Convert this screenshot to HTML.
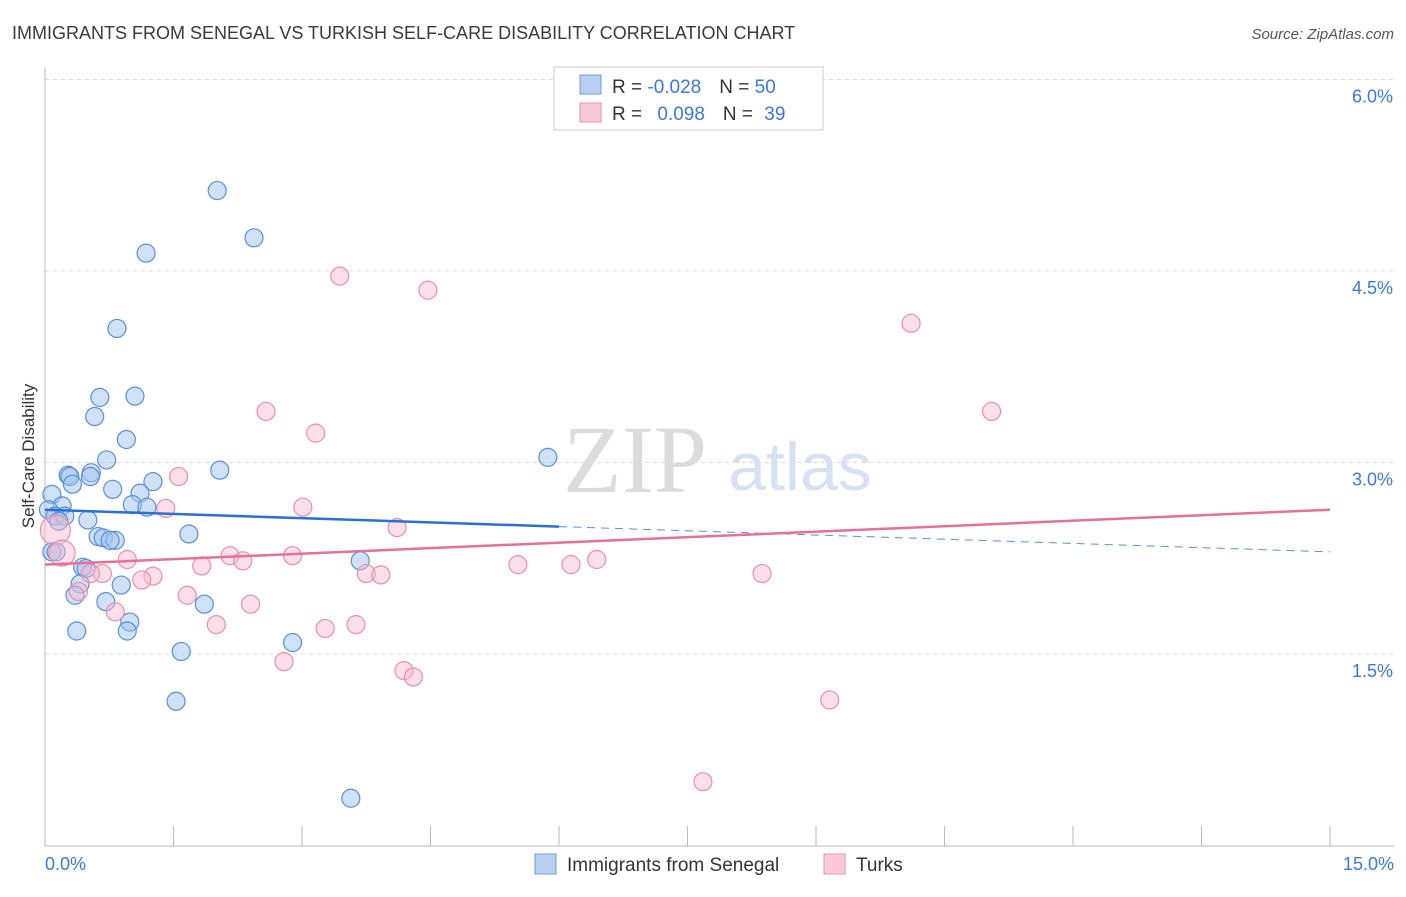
<!DOCTYPE html>
<html><head><meta charset="utf-8"><style>
body{margin:0;background:#fff;font-family:"Liberation Sans",sans-serif}
</style></head><body>
<svg id="chart" width="1406" height="892" xmlns="http://www.w3.org/2000/svg" font-family="Liberation Sans, sans-serif">
<text x="12" y="39" font-size="18" fill="#3a3a3a">IMMIGRANTS FROM SENEGAL VS TURKISH SELF-CARE DISABILITY CORRELATION CHART</text>
<text x="1394" y="39" font-size="15" fill="#555" font-style="italic" text-anchor="end">Source: ZipAtlas.com</text>
<g id="grid"></g>
<text x="635" y="492" font-size="96" fill="#dcdcdc" font-family="Liberation Serif, serif" text-anchor="middle">ZIP</text>
<text x="800" y="490" font-size="68" fill="#d5e2f3" text-anchor="middle">atlas</text>
<line x1="45" y1="67" x2="45" y2="846" stroke="#bbb"/>
<line x1="45" y1="846" x2="1394" y2="846" stroke="#bbb"/>
<g id="xticks"></g>
<g id="ylabels"></g>
<text transform="translate(34,456) rotate(-90)" font-size="17" fill="#333" text-anchor="middle">Self-Care Disability</text>
<text x="45" y="870" font-size="18" fill="#3b78d8">0.0%</text>
<text x="1394" y="870" font-size="18" fill="#3b78d8" text-anchor="end">15.0%</text>
<g id="points"></g>
<g id="trends"></g>
<g>
<rect x="554" y="67" width="269" height="63" fill="#fff" stroke="#ccc"/>
<rect x="580" y="75" width="21" height="19" fill="#b7d0f2" stroke="#6d9be0"/>
<rect x="580" y="103" width="21" height="19" fill="#f9c9d7" stroke="#ec93ad"/>
<text x="612" y="93" font-size="19" fill="#333">R = <tspan fill="#3b78d8">-0.028</tspan><tspan dx="18">N = </tspan><tspan fill="#3b78d8">50</tspan></text>
<text x="612" y="120" font-size="19" fill="#333">R = <tspan fill="#3b78d8" dx="10">0.098</tspan><tspan dx="18">N = </tspan><tspan fill="#3b78d8" dx="6">39</tspan></text>
</g>
<g>
<rect x="535" y="854" width="21" height="20" fill="#b7d0f2" stroke="#6d9be0"/>
<text x="567" y="871" font-size="19" fill="#333">Immigrants from Senegal</text>
<rect x="824" y="854" width="21" height="20" fill="#f9c9d7" stroke="#ec93ad"/>
<text x="856" y="871" font-size="19" fill="#333">Turks</text>
</g>
</svg>
<script>
const yTicks=[1.5,3.0,4.5,6.0];
const yTickLabels=["1.5%","3.0%","4.5%","6.0%"];
const xTicks=[0,1.5,3,4.5,6,7.5,9,10.5,12,13.5,15];
const senegalX=[2.01,2.44,1.18,0.84,1.05,0.64,0.58,0.95,0.72,2.04,5.87,0.27,0.29,0.54,0.53,0.32,1.26,0.79,1.11,0.08,1.02,1.19,0.20,0.04,0.12,0.23,0.50,0.16,0.62,0.68,0.82,0.76,1.68,0.08,0.13,3.68,0.44,0.48,0.89,0.41,0.35,0.71,1.86,0.99,0.37,0.96,2.89,1.59,1.53,3.57];
const senegalY=[5.13,4.76,4.64,4.05,3.52,3.51,3.36,3.18,3.02,2.94,3.04,2.90,2.89,2.92,2.89,2.83,2.85,2.79,2.76,2.75,2.67,2.65,2.66,2.63,2.58,2.58,2.55,2.54,2.42,2.41,2.39,2.39,2.44,2.30,2.30,2.23,2.18,2.17,2.04,2.05,1.96,1.91,1.89,1.75,1.68,1.68,1.59,1.52,1.13,0.37];
const turksX=[3.44,4.47,10.11,2.58,11.05,3.16,1.56,3.01,1.41,4.11,0.12,0.20,2.16,2.89,2.31,1.83,0.96,5.52,6.14,6.44,3.75,3.92,0.67,0.53,1.26,1.13,8.37,1.66,0.39,2.40,0.82,2.00,3.27,3.63,2.79,4.19,4.30,9.16,7.68];
const turksY=[4.46,4.35,4.09,3.40,3.40,3.23,2.89,2.65,2.64,2.49,2.47,2.29,2.27,2.27,2.23,2.19,2.24,2.20,2.20,2.24,2.13,2.12,2.13,2.13,2.11,2.08,2.13,1.96,1.99,1.89,1.83,1.73,1.70,1.73,1.44,1.37,1.32,1.14,0.50];
const turksR=[9,9,9,9,9,9,9,9,9,9,15,13,9,9,9,9,9,9,9,9,9,9,9,9,9,9,9,9,9,9,9,9,9,9,9,9,9,9,9];
const senegalTrend=[2.63,2.30];
const turksTrend=[2.20,2.63];
const solidEnd=6.0;
const NS="http://www.w3.org/2000/svg";
const X=v=>45+v/15*1285;
const Y=v=>845.5-v*127.67;
function mk(tag,attrs,parent){const e=document.createElementNS(NS,tag);for(const k in attrs)e.setAttribute(k,attrs[k]);parent.appendChild(e);return e;}
const grid=document.getElementById('grid'),yl=document.getElementById('ylabels'),xt=document.getElementById('xticks');
yTicks.forEach((t,i)=>{
 const l=mk('line',{x1:45,x2:1394,y1:Y(t),y2:Y(t),stroke:'#ddd','stroke-dasharray':'4,4'},grid);
 
 
 const tx=mk('text',{x:1393,y:Y(t)+23,'font-size':18,fill:'#3b78d8','text-anchor':'end'},yl);
 tx.textContent=yTickLabels[i];
 
 
});
xTicks.forEach(t=>{
 const l=mk('line',{x1:X(t),x2:X(t),y1:826,y2:846,stroke:'#bbb'},xt);
 
 
});
const pts=document.getElementById('points');
senegalX.forEach((v,i)=>{
 const c=mk('circle',{cx:X(v),cy:Y(senegalY[i]),r:9,fill:'rgba(160,195,240,0.5)',stroke:'#5b8fd9','stroke-width':1.2},pts);
 
 
});
turksX.forEach((v,i)=>{
 const c=mk('circle',{cx:X(v),cy:Y(turksY[i]),r:turksR[i],fill:'rgba(248,185,205,0.45)',stroke:'#ea8fab','stroke-width':1.2},pts);
 
 
});
const tr=document.getElementById('trends');
const sAt=x=>senegalTrend[0]+(senegalTrend[1]-senegalTrend[0])*x/15;
let a=mk('line',{x1:X(0),y1:Y(sAt(0)),x2:X(solidEnd),y2:Y(sAt(solidEnd)),stroke:'#2a6fd6','stroke-width':2.5},tr);


let b=mk('line',{x1:X(solidEnd),y1:Y(sAt(solidEnd)),x2:X(15),y2:Y(sAt(15)),stroke:'#5b8fd9','stroke-width':1,'stroke-dasharray':'8,6'},tr);


let c=mk('line',{x1:X(0),y1:Y(turksTrend[0]),x2:X(15),y2:Y(turksTrend[1]),stroke:'#e5709a','stroke-width':2.5},tr);


</script>
</body></html>
